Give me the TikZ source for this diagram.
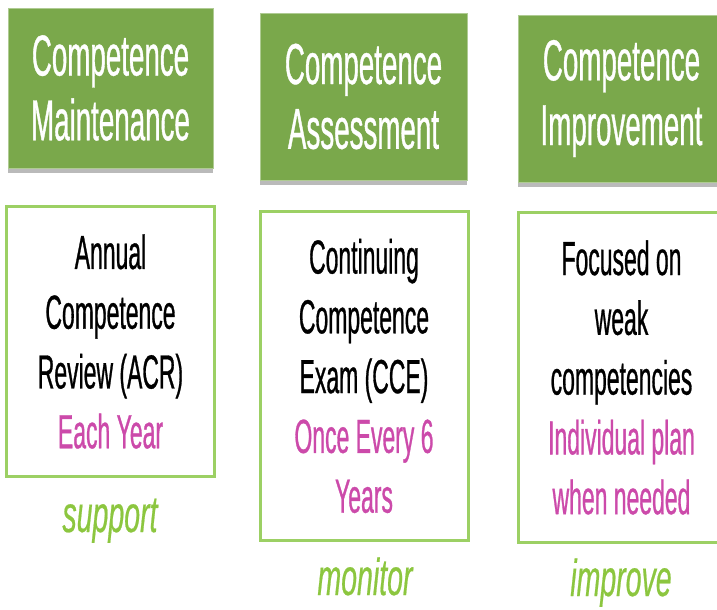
\documentclass[tikz,border=0pt]{standalone}
\usepackage{fontspec}
\newfontfamily\narrowfont[FakeStretch=0.48,FakeBold=0.6]{Liberation Sans}
\newfontfamily\slantfont[FakeStretch=0.55,FakeBold=0.4]{Liberation Sans Italic}
\usetikzlibrary{shadows}
\definecolor{headgreen}{HTML}{7AA84B}
\definecolor{linegreen}{HTML}{9CD064}
\definecolor{wordgreen}{HTML}{8CC63F}
\definecolor{notepink}{HTML}{CC4AAA}

\tikzset{
	headbox/.style={fill=headgreen, draw=headgreen!60!white, line width=0.8bp, text=white, align=center, inner sep=0pt,
		font=\narrowfont\fontsize{58}{65}\selectfont,
		drop shadow={shadow xshift=0bp, shadow yshift=-5bp, fill=black!60, opacity=0.45}},
	bodybox/.style={draw=linegreen, line width=3bp, fill=white, align=center, inner sep=0pt,
		font=\narrowfont\fontsize{48}{60}\selectfont},
	tagword/.style={text=wordgreen, anchor=base, inner sep=0pt, font=\slantfont\fontsize{52}{52}\selectfont}
}

\begin{document}
\begin{tikzpicture}[x=1bp,y=-1bp]
			\useasboundingbox (0,0) rectangle (717,610);
			
			% draw header boxes
			\node[headbox, minimum width=205bp, minimum height=160bp] (maint) at (110.5,88) {Competence\\Maintenance};
			\node[headbox, minimum width=207bp, minimum height=167bp] (assess) at (363.5,96.5) {Competence\\Assessment};
			\node[headbox, minimum width=207bp, minimum height=167bp] (improv) at (621.5,98.5) {Competence\\Improvement};
			
			% draw content boxes
			\node[bodybox, minimum width=207bp, minimum height=269bp] (acr) at (110.5,341.5) {Annual\\Competence\\Review (ACR)\\\textcolor{notepink}{Each Year}};
			\node[bodybox, minimum width=208bp, minimum height=328bp] (cce) at (364,376) {Continuing\\Competence\\Exam (CCE)\\\textcolor{notepink}{Once Every 6}\\\textcolor{notepink}{Years}};
			\node[bodybox, minimum width=207bp, minimum height=329bp] (plan) at (621.5,377.5) {Focused on\\weak\\competencies\\\textcolor{notepink}{Individual plan}\\\textcolor{notepink}{when needed}};
			
			% draw words below
			\node[tagword] (support) at (110,532) {support};
			\node[tagword] (monitor) at (365,595) {monitor};
			\node[tagword] (improve) at (621,596) {improve};
\end{tikzpicture}
\end{document}
